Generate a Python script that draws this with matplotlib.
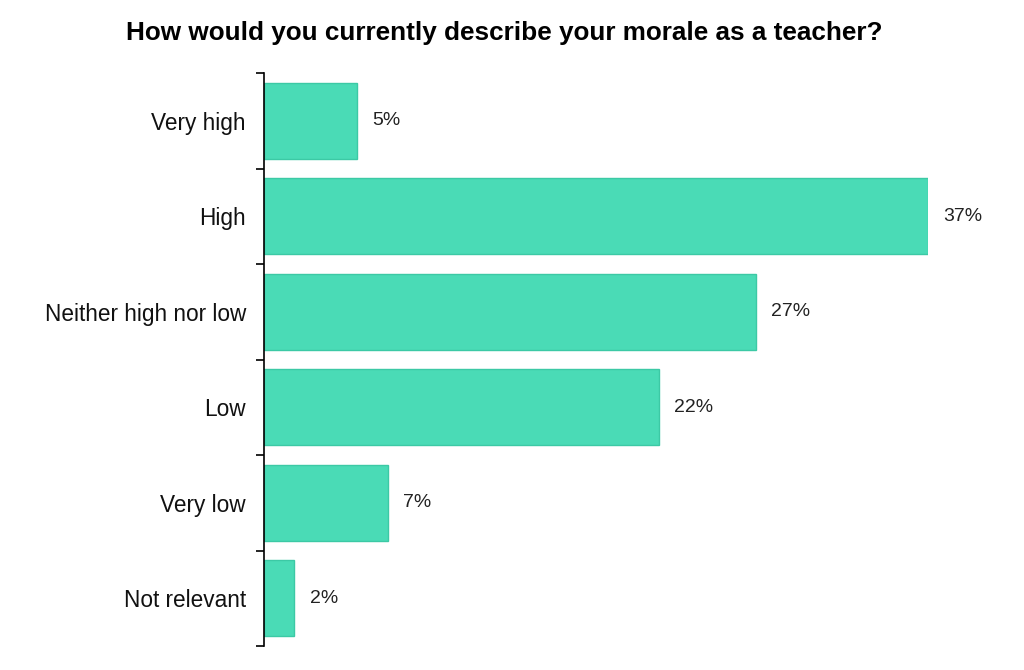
import matplotlib
matplotlib.use('Agg')
import matplotlib.pyplot as plt
import numpy as np

categories = ['Very high', 'High', 'Neither high nor low', 'Low', 'Very low', 'Not relevant']
values = [5.2, 37.0, 27.4, 22.0, 6.9, 1.7]
labels = ['5%', '37%', '27%', '22%', '7%', '2%']

plt.rcParams['font.family'] = ['Liberation Sans', 'DejaVu Sans']

fig = plt.figure(figsize=(10.24, 6.7), dpi=100)
ax = fig.add_axes([0.2578, 0.0358, 0.906 - 0.2578, 0.891 - 0.0358])

y = np.arange(len(categories))
ax.barh(y, values, height=0.8, color='#4adbb6', edgecolor='#3cc9a5', linewidth=1)

for yi, v, lab in zip(y, values, labels):
    ax.text(v + 0.85, yi, lab, va='center', ha='left', fontsize=14, color='#222222')

ax.set_xlim(0, 37)
ax.set_ylim(len(categories) - 0.5, -0.5)
ax.set_yticks(y)
ax.set_yticklabels(categories, fontsize=16.3, color='#111111')
ax.tick_params(axis='y', which='major', length=0, pad=13)
ax.set_yticks(np.arange(-0.5, len(categories)), minor=True)
ax.tick_params(axis='y', which='minor', length=6, width=1.2, color='black')
ax.set_xticks([])
for s in ['top', 'right', 'bottom']:
    ax.spines[s].set_visible(False)
ax.spines['left'].set_linewidth(1.2)

fig.suptitle('How would you currently describe your morale as a teacher?',
             x=0.492, y=0.968, fontsize=18.8, fontweight='bold')

fig.savefig('out.png', dpi=100)
